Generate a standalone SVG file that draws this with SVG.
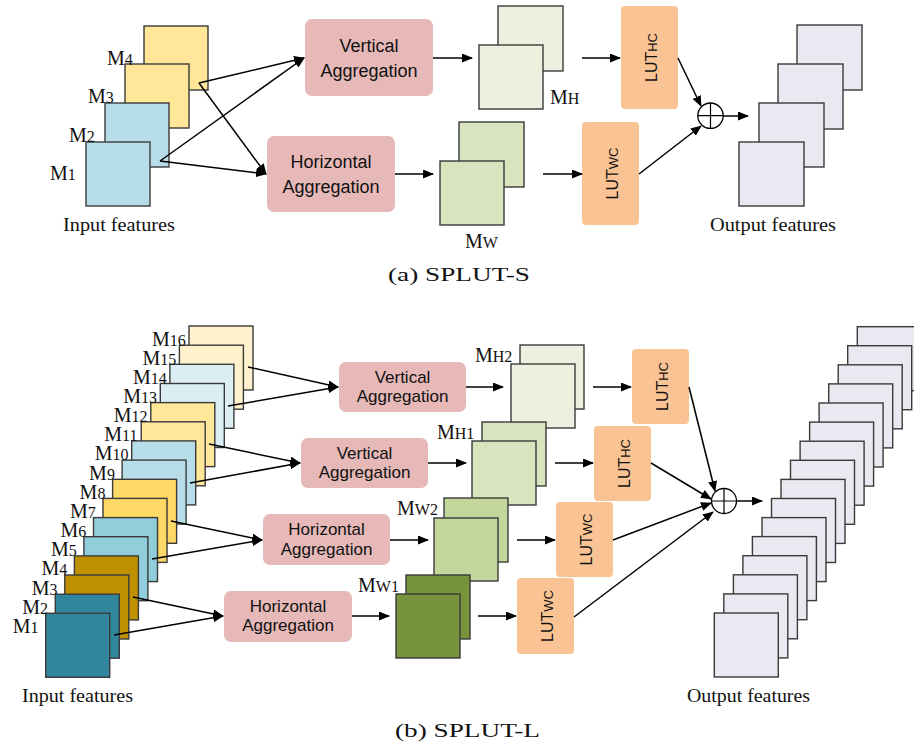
<svg xmlns="http://www.w3.org/2000/svg" width="914" height="750" viewBox="0 0 914 750">
<defs>
<marker id="ah" markerUnits="userSpaceOnUse" markerWidth="11" markerHeight="9" refX="10" refY="4.5" orient="auto">
<path d="M0,0 L11,4.5 L0,9 z" fill="#000"/>
</marker>
<style>
.sq{stroke:#3a3a3a;stroke-width:1.4}
.agg{fill:#E6B9B8}
.lut{fill:#FAC393}
.at{font-family:"Liberation Sans",Arial,sans-serif;font-size:18px;fill:#111;text-anchor:middle}
.bt{font-family:"Liberation Sans",Arial,sans-serif;font-size:17px;fill:#111;text-anchor:middle}
.lt{font-family:"Liberation Sans",Arial,sans-serif;fill:#111;text-anchor:middle}
.sf{font-family:"Liberation Serif","Times New Roman",serif;fill:#111}
.big{font-size:20px}
.sub{font-size:16px}
.cap{font-family:"Liberation Serif","Times New Roman",serif;font-size:19px;fill:#111}
.ar{stroke:#000;stroke-width:1.5;fill:none;marker-end:url(#ah)}
.ln{stroke:#000;stroke-width:1.2;fill:none}
.y1{fill:#FFE699}.b1{fill:#B7DEE8}
.c16{fill:#FFF2CC}.c14{fill:#DAEEF3}.c12{fill:#FFE699}.c10{fill:#B7DEE8}
.c8{fill:#FFD966}.c6{fill:#92CDDC}.c4{fill:#BF9000}.c2{fill:#31859C}
.gh{fill:#EBF1DE}.gw{fill:#D7E4BD}.gw2{fill:#C3D69B}.gw1{fill:#77933C}
.out{fill:#EAE8F0}
</style>
</defs>

<!-- ===== (a) SPLUT-S ===== -->
<g id="a-input">
<rect class="sq y1" x="144" y="26" width="64" height="64"/>
<rect class="sq y1" x="125" y="64" width="64" height="64"/>
<rect class="sq b1" x="105" y="103" width="64" height="64"/>
<rect class="sq b1" x="86" y="142" width="64" height="64"/>
<text class="sf" x="107" y="65"><tspan class="big">M</tspan><tspan class="sub">4</tspan></text>
<text class="sf" x="88" y="103"><tspan class="big">M</tspan><tspan class="sub">3</tspan></text>
<text class="sf" x="69" y="142"><tspan class="big">M</tspan><tspan class="sub">2</tspan></text>
<text class="sf" x="50" y="180"><tspan class="big">M</tspan><tspan class="sub">1</tspan></text>
<text class="cap" x="63" y="231" textLength="112" lengthAdjust="spacingAndGlyphs">Input features</text>
</g>
<g id="a-vagg">
<rect class="agg" x="305" y="19" width="128" height="77" rx="7"/>
<text class="at" x="369" y="52">Vertical</text>
<text class="at" x="369" y="77">Aggregation</text>
</g>
<g id="a-hagg">
<rect class="agg" x="267" y="136" width="128" height="76" rx="7"/>
<text class="at" x="331" y="168">Horizontal</text>
<text class="at" x="331" y="193">Aggregation</text>
</g>
<g id="a-mh">
<rect class="sq gh" x="498" y="6" width="65" height="65"/>
<rect class="sq gh" x="479" y="45" width="64" height="64"/>
<text class="sf" x="550" y="104"><tspan class="big">M</tspan><tspan class="sub">H</tspan></text>
</g>
<g id="a-mw">
<rect class="sq gw" x="459" y="122" width="65" height="65"/>
<rect class="sq gw" x="440" y="161" width="64" height="64"/>
<text class="sf" x="465" y="248"><tspan class="big">M</tspan><tspan class="sub">W</tspan></text>
</g>
<g id="a-luthc">
<rect class="lut" x="621" y="6" width="57" height="103" rx="4"/>
<text class="lt" x="649.5" y="65" transform="rotate(-90 649.5 57.5)"><tspan font-size="16">LUT</tspan><tspan font-size="13">HC</tspan></text>
</g>
<g id="a-lutwc">
<rect class="lut" x="582" y="122" width="57" height="103" rx="4"/>
<text class="lt" x="610.5" y="181" transform="rotate(-90 610.5 173.5)"><tspan font-size="16">LUT</tspan><tspan font-size="13">WC</tspan></text>
</g>
<g id="a-sum">
<circle cx="710.5" cy="115.7" r="12.7" fill="#fff" stroke="#000" stroke-width="1.3"/>
<path class="ln" d="M697.8,115.7 H723.2 M710.5,103 V128.4"/>
</g>
<g id="a-output">
<rect class="sq out" x="797" y="25" width="65" height="65"/>
<rect class="sq out" x="778" y="64" width="65" height="65"/>
<rect class="sq out" x="759" y="103" width="65" height="64"/>
<rect class="sq out" x="739" y="142" width="65" height="64"/>
<text class="cap" x="710" y="231" textLength="126" lengthAdjust="spacingAndGlyphs">Output features</text>
</g>
<g id="a-connectors">
<line class="ar" x1="199" y1="83" x2="304" y2="58"/>
<line class="ar" x1="199" y1="83" x2="266" y2="174"/>
<line class="ar" x1="160" y1="161" x2="304" y2="58"/>
<line class="ar" x1="160" y1="161" x2="266" y2="174"/>
<line class="ar" x1="433" y1="58" x2="472" y2="58"/>
<line class="ar" x1="395" y1="174" x2="433" y2="174"/>
<line class="ar" x1="582" y1="58" x2="620" y2="58"/>
<line class="ar" x1="543" y1="174" x2="582" y2="174"/>
<line class="ar" x1="678" y1="58" x2="701" y2="106"/>
<line class="ar" x1="639" y1="174" x2="701" y2="126"/>
<line class="ar" x1="723" y1="116" x2="748" y2="116"/>
</g>
<text class="cap" x="388" y="281" textLength="142" lengthAdjust="spacingAndGlyphs">(a) SPLUT-S</text>

<!-- ===== (b) SPLUT-L ===== -->
<g id="b-input">
<rect class="sq c16" x="189.0" y="326.0" width="64" height="64"/>
<rect class="sq c16" x="179.4" y="345.2" width="64" height="64"/>
<rect class="sq c14" x="169.9" y="364.3" width="64" height="64"/>
<rect class="sq c14" x="160.3" y="383.5" width="64" height="64"/>
<rect class="sq c12" x="150.8" y="402.6" width="64" height="64"/>
<rect class="sq c12" x="141.2" y="421.8" width="64" height="64"/>
<rect class="sq c10" x="131.7" y="440.9" width="64" height="64"/>
<rect class="sq c10" x="122.1" y="460.1" width="64" height="64"/>
<rect class="sq c8" x="112.6" y="479.3" width="64" height="64"/>
<rect class="sq c8" x="103.0" y="498.4" width="64" height="64"/>
<rect class="sq c6" x="93.5" y="517.6" width="64" height="64"/>
<rect class="sq c6" x="83.9" y="536.7" width="64" height="64"/>
<rect class="sq c4" x="74.4" y="555.9" width="64" height="64"/>
<rect class="sq c4" x="64.8" y="575.0" width="64" height="64"/>
<rect class="sq c2" x="55.3" y="594.2" width="64" height="64"/>
<rect class="sq c2" x="45.7" y="613.3" width="64" height="64"/>
<text class="sf" x="152" y="345.5"><tspan class="big">M</tspan><tspan class="sub">16</tspan></text>
<text class="sf" x="142.4" y="364.7"><tspan class="big">M</tspan><tspan class="sub">15</tspan></text>
<text class="sf" x="132.9" y="383.8"><tspan class="big">M</tspan><tspan class="sub">14</tspan></text>
<text class="sf" x="123.3" y="403"><tspan class="big">M</tspan><tspan class="sub">13</tspan></text>
<text class="sf" x="113.8" y="422.1"><tspan class="big">M</tspan><tspan class="sub">12</tspan></text>
<text class="sf" x="104.2" y="441.3"><tspan class="big">M</tspan><tspan class="sub">11</tspan></text>
<text class="sf" x="94.7" y="460.4"><tspan class="big">M</tspan><tspan class="sub">10</tspan></text>
<text class="sf" x="89.1" y="479.6"><tspan class="big">M</tspan><tspan class="sub">9</tspan></text>
<text class="sf" x="79.6" y="498.8"><tspan class="big">M</tspan><tspan class="sub">8</tspan></text>
<text class="sf" x="70" y="517.9"><tspan class="big">M</tspan><tspan class="sub">7</tspan></text>
<text class="sf" x="60.5" y="537.1"><tspan class="big">M</tspan><tspan class="sub">6</tspan></text>
<text class="sf" x="50.9" y="556.2"><tspan class="big">M</tspan><tspan class="sub">5</tspan></text>
<text class="sf" x="41.4" y="575.4"><tspan class="big">M</tspan><tspan class="sub">4</tspan></text>
<text class="sf" x="31.8" y="594.5"><tspan class="big">M</tspan><tspan class="sub">3</tspan></text>
<text class="sf" x="22.3" y="613.7"><tspan class="big">M</tspan><tspan class="sub">2</tspan></text>
<text class="sf" x="12.7" y="632.8"><tspan class="big">M</tspan><tspan class="sub">1</tspan></text>
<text class="cap" x="22" y="702" textLength="111" lengthAdjust="spacingAndGlyphs">Input features</text>
</g>
<g id="b-vagg2">
<rect class="agg" x="339" y="362" width="127" height="50" rx="7"/>
<text class="bt" x="402.5" y="382.5">Vertical</text>
<text class="bt" x="402.5" y="402">Aggregation</text>
</g>
<g id="b-vagg1">
<rect class="agg" x="301" y="438" width="127" height="50" rx="7"/>
<text class="bt" x="364.5" y="458.5">Vertical</text>
<text class="bt" x="364.5" y="478">Aggregation</text>
</g>
<g id="b-hagg2">
<rect class="agg" x="263" y="514" width="127" height="51" rx="7"/>
<text class="bt" x="326.5" y="535">Horizontal</text>
<text class="bt" x="326.5" y="554.5">Aggregation</text>
</g>
<g id="b-hagg1">
<rect class="agg" x="224" y="591" width="128" height="51" rx="7"/>
<text class="bt" x="288" y="611.5">Horizontal</text>
<text class="bt" x="288" y="631">Aggregation</text>
</g>
<g id="b-mh2">
<rect class="sq gh" x="520" y="345" width="64" height="64"/>
<rect class="sq gh" x="511" y="364" width="64" height="64"/>
<text class="sf" x="475" y="362"><tspan class="big">M</tspan><tspan class="sub">H2</tspan></text>
</g>
<g id="b-mh1">
<rect class="sq gw" x="482" y="422" width="64" height="64"/>
<rect class="sq gw" x="472" y="441" width="64" height="64"/>
<text class="sf" x="437" y="438.5"><tspan class="big">M</tspan><tspan class="sub">H1</tspan></text>
</g>
<g id="b-mw2">
<rect class="sq gw2" x="444" y="498" width="64" height="64"/>
<rect class="sq gw2" x="434" y="518" width="64" height="63"/>
<text class="sf" x="397" y="515"><tspan class="big">M</tspan><tspan class="sub">W2</tspan></text>
</g>
<g id="b-mw1">
<rect class="sq gw1" x="406" y="575" width="64" height="64"/>
<rect class="sq gw1" x="396" y="594" width="64" height="64"/>
<text class="sf" x="358" y="592"><tspan class="big">M</tspan><tspan class="sub">W1</tspan></text>
</g>
<g id="b-luthc2">
<rect class="lut" x="632" y="349" width="57" height="75" rx="4"/>
<text class="lt" x="660.5" y="394" transform="rotate(-90 660.5 386.5)"><tspan font-size="16">LUT</tspan><tspan font-size="13">HC</tspan></text>
</g>
<g id="b-luthc1">
<rect class="lut" x="594" y="426" width="57" height="75" rx="4"/>
<text class="lt" x="622.5" y="471" transform="rotate(-90 622.5 463.5)"><tspan font-size="16">LUT</tspan><tspan font-size="13">HC</tspan></text>
</g>
<g id="b-lutwc2">
<rect class="lut" x="556" y="502" width="57" height="75" rx="4"/>
<text class="lt" x="584.5" y="547" transform="rotate(-90 584.5 539.5)"><tspan font-size="16">LUT</tspan><tspan font-size="13">WC</tspan></text>
</g>
<g id="b-lutwc1">
<rect class="lut" x="517" y="578" width="57" height="76" rx="4"/>
<text class="lt" x="545.5" y="623.5" transform="rotate(-90 545.5 616)"><tspan font-size="16">LUT</tspan><tspan font-size="13">WC</tspan></text>
</g>
<g id="b-sum">
<circle cx="724" cy="501" r="12.5" fill="#fff" stroke="#000" stroke-width="1.3"/>
<path class="ln" d="M711.5,501 H736.5 M724,488.5 V513.5"/>
</g>
<g id="b-output">
<rect class="sq out" x="857.3" y="326.7" width="64" height="64"/>
<rect class="sq out" x="847.7" y="345.7" width="64" height="64"/>
<rect class="sq out" x="838.2" y="364.8" width="64" height="64"/>
<rect class="sq out" x="828.7" y="383.9" width="64" height="64"/>
<rect class="sq out" x="819.1" y="403.0" width="64" height="64"/>
<rect class="sq out" x="809.6" y="422.1" width="64" height="64"/>
<rect class="sq out" x="800.1" y="441.2" width="64" height="64"/>
<rect class="sq out" x="790.5" y="460.3" width="64" height="64"/>
<rect class="sq out" x="781.0" y="479.4" width="64" height="64"/>
<rect class="sq out" x="771.5" y="498.5" width="64" height="64"/>
<rect class="sq out" x="762.0" y="517.6" width="64" height="64"/>
<rect class="sq out" x="752.4" y="536.6" width="64" height="64"/>
<rect class="sq out" x="742.9" y="555.7" width="64" height="64"/>
<rect class="sq out" x="733.4" y="574.8" width="64" height="64"/>
<rect class="sq out" x="723.8" y="593.9" width="64" height="64"/>
<rect class="sq out" x="714.3" y="613.0" width="64" height="64"/>
<text class="cap" x="687" y="702" textLength="123" lengthAdjust="spacingAndGlyphs">Output features</text>
</g>
<g id="b-connectors">
<line class="ar" x1="248" y1="367" x2="338" y2="387"/>
<line class="ar" x1="228" y1="406" x2="338" y2="387"/>
<line class="ar" x1="209" y1="444" x2="300" y2="463"/>
<line class="ar" x1="190" y1="483" x2="300" y2="463"/>
<line class="ar" x1="171" y1="521" x2="262" y2="540"/>
<line class="ar" x1="152" y1="559" x2="262" y2="540"/>
<line class="ar" x1="133" y1="597" x2="223" y2="616"/>
<line class="ar" x1="114" y1="635" x2="223" y2="616"/>
<line class="ar" x1="466" y1="387" x2="503" y2="387"/>
<line class="ar" x1="428" y1="463" x2="466" y2="463"/>
<line class="ar" x1="390" y1="540" x2="428" y2="540"/>
<line class="ar" x1="352" y1="616" x2="389" y2="616"/>
<line class="ar" x1="593" y1="387" x2="631" y2="387"/>
<line class="ar" x1="555" y1="463" x2="593" y2="463"/>
<line class="ar" x1="517" y1="540" x2="555" y2="540"/>
<line class="ar" x1="478" y1="616" x2="516" y2="616"/>
<line class="ar" x1="689" y1="387" x2="715" y2="491"/>
<line class="ar" x1="651" y1="463" x2="711" y2="499"/>
<line class="ar" x1="613" y1="540" x2="711" y2="503"/>
<line class="ar" x1="574" y1="617" x2="713" y2="512"/>
<line class="ar" x1="736.5" y1="501" x2="762" y2="501"/>
</g>
<text class="cap" x="395" y="737" textLength="145" lengthAdjust="spacingAndGlyphs">(b) SPLUT-L</text>
</svg>
